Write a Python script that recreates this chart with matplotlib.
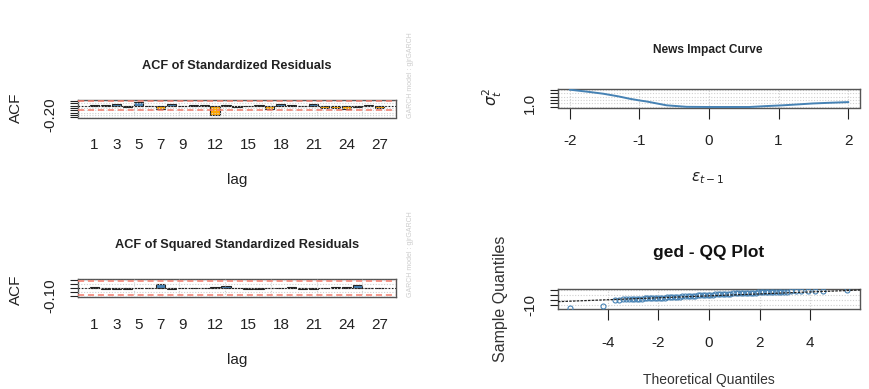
import matplotlib
matplotlib.use("Agg")
import matplotlib.pyplot as plt

plt.rcParams['font.family'] = ['Liberation Sans', 'DejaVu Sans']
plt.rcParams['axes.unicode_minus'] = False

# ---------------- data ----------------
lags = list(range(1, 28))
acf_std = [0.005, 0.003, 0.03, -0.04, 0.08, -0.015, -0.07, 0.03, 0.002, 0.003,
           0.004, -0.20, 0.01, -0.035, -0.01, 0.01, -0.07, 0.035, 0.01, -0.01,
           0.035, -0.06, -0.06, -0.075, -0.03, 0.003, -0.06]
acf_sq = [0.005, -0.02, -0.02, -0.02, 0.002, 0.002, 0.055, -0.02, 0.002, 0.002,
          0.001, 0.006, 0.02, 0.001, -0.02, -0.02, 0.001, 0.001, 0.006, -0.02,
          -0.02, 0.002, 0.005, 0.005, 0.04, -0.004, -0.004]
acf_clim = 0.088
acf_std_ylim = (-0.254, 0.12)
acf_sq_ylim = (-0.114, 0.114)
acf_std_yticks = [-0.25, -0.20, -0.15, -0.10, -0.05, 0.0, 0.05, 0.10]
acf_sq_yticks = [-0.10, -0.05, 0.0, 0.05, 0.10]
acf_xlabels = [1, 3, 5, 7, 9, 12, 15, 18, 21, 24, 27]

nic_eps = [-2.0, -1.75, -1.52, -1.3, -1.14, -1.0, -0.9, -0.61, -0.32, 0.0, 0.3,
           0.58, 0.8, 1.06, 1.3, 1.49, 1.73, 2.0]
nic_sigma2 = [1.82, 1.70, 1.58, 1.42, 1.28, 1.18, 1.12, 0.89, 0.80, 0.79, 0.79,
              0.79, 0.84, 0.89, 0.95, 1.00, 1.04, 1.08]
nic_yticks = [0.8, 1.0, 1.2, 1.4, 1.6, 1.8]
nic_xticks = [-2, -1, 0, 1, 2]

qq_theo = [-5.48, -4.21, -3.71, -3.55, -3.40, -3.28, -3.15, -3.05, -2.95, -2.85,
           -2.75, -2.65, -2.55, -2.45, -2.35, -2.25, -2.15, -2.05, -1.95, -1.85,
           -1.75, -1.65, -1.55, -1.45, -1.35, -1.25, -1.15, -1.05, -0.95, -0.85,
           -0.75, -0.65, -0.55, -0.45, -0.35, -0.25, -0.15, -0.05, 0.05, 0.15,
           0.25, 0.35, 0.45, 0.55, 0.65, 0.75, 0.85, 0.95, 1.05, 1.15,
           1.25, 1.35, 1.45, 1.55, 1.65, 1.75, 1.85, 1.95, 2.05, 2.15,
           2.25, 2.35, 2.45, 2.55, 2.65, 2.75, 2.85, 2.95, 3.10, 3.25,
           3.45, 3.65, 3.90, 4.20, 4.50, 5.47]
qq_sample = [-12.3, -10.6, -4.9, -4.6, -4.4, -4.2, -4.0, -3.9, -3.8, -3.7,
             -3.6, -3.5, -3.4, -3.3, -3.2, -3.1, -3.0, -2.9, -2.8, -2.7,
             -2.6, -2.5, -2.4, -2.2, -2.0, -1.8, -1.6, -1.4, -1.25, -1.1,
             -0.95, -0.8, -0.65, -0.5, -0.35, -0.2, -0.1, 0.0, 0.1, 0.2,
             0.35, 0.5, 0.65, 0.8, 0.95, 1.1, 1.2, 1.3, 1.4, 1.5,
             1.6, 1.7, 1.8, 1.9, 2.0, 2.1, 2.2, 2.3, 2.35, 2.4,
             2.5, 2.55, 2.6, 2.7, 2.75, 2.8, 2.9, 3.0, 3.1, 3.2,
             3.3, 3.45, 3.6, 3.8, 4.0, 4.3]
qq_line_intercept = -0.95
qq_line_slope = 0.93
qq_xticks = [-4, -2, 0, 2, 4]
qq_yticks = [-10, -5, 0, 5]

# ---------------- figure ----------------
W, H = 869, 389
fig = plt.figure(figsize=(W / 100, H / 100), dpi=100)


def box(x0, y0, x1, y1):
    return fig.add_axes([x0 / W, 1 - y1 / H, (x1 - x0) / W, (y1 - y0) / H])


frame_col = '#555555'
grid_col = '#d0d0d0'
steel = '#4682B4'
orange = '#FFA500'


def style(ax):
    for s in ax.spines.values():
        s.set_color(frame_col)
        s.set_linewidth(1.0)
    ax.tick_params(colors='#222222', labelcolor='#222222', width=0.8)


def acf_panel(ax, vals, ylim, yticks, ylabel_tick):
    pos = [0.7 + 1.2 * (l - 1) for l in lags]
    cols = [steel if v > 0 else orange for v in vals]
    ax.bar(pos, vals, width=1.0, color=cols, edgecolor='#222222', linewidth=0.8, zorder=2)
    left = 0.2
    right = 0.2 + 1.2 * (len(lags) - 1) + 1.0
    ext = 0.04 * (right - left)
    ax.set_xlim(left - ext, right + ext)
    ax.set_ylim(*ylim)
    for gx in [5, 10, 15, 20, 25, 30]:
        ax.axvline(gx, color=grid_col, lw=0.8, ls=(0, (1, 1.5)), zorder=3)
    for gy in yticks:
        ax.axhline(gy, color=grid_col, lw=0.8, ls=(0, (1, 1.5)), zorder=3)
    ax.axhline(acf_clim, color='#f47c6c', lw=1.1, ls=(0, (4, 2.5)), zorder=4)
    ax.axhline(-acf_clim, color='#f47c6c', lw=1.1, ls=(0, (4, 2.5)), zorder=4)
    ax.axhline(0, color='#222222', lw=0.8, ls=(0, (1.5, 1.5)), zorder=4)
    ax.set_xticks([pos[l - 1] for l in acf_xlabels], [str(l) for l in acf_xlabels])
    ax.tick_params(axis='x', length=0, pad=15, labelsize=11)
    ax.set_yticks(yticks, [ylabel_tick if abs(t - float(ylabel_tick)) < 1e-9 else '' for t in yticks])
    ax.tick_params(axis='y', length=6, pad=9, labelsize=11, labelrotation=90)
    for lab in ax.get_yticklabels():
        lab.set_va('center')
    style(ax)


# top-left ACF of standardized residuals
ax1 = box(78, 100, 396, 117.5)
acf_panel(ax1, acf_std, acf_std_ylim, acf_std_yticks, '-0.20')
fig.text(237 / W, 1 - 66 / H, 'ACF of Standardized Residuals', ha='center', va='center',
         fontsize=9.2, fontweight='bold', color='#222222')
fig.text(16 / W, 1 - 108 / H, 'ACF', rotation=90, ha='center', va='center', fontsize=11, color='#222222')
fig.text(237 / W, 1 - 180 / H, 'lag', ha='center', va='center', fontsize=11, color='#222222')
fig.text(410 / W, 1 - 118 / H, 'GARCH model : gjrGARCH', rotation=90, ha='center', va='bottom',
         fontsize=5, color='#cccccc')

# bottom-left ACF of squared standardized residuals
ax2 = box(78, 279, 396, 296.7)
acf_panel(ax2, acf_sq, acf_sq_ylim, acf_sq_yticks, '-0.10')
fig.text(237 / W, 1 - 245 / H, 'ACF of Squared Standardized Residuals', ha='center', va='center',
         fontsize=9.2, fontweight='bold', color='#222222')
fig.text(16 / W, 1 - 290 / H, 'ACF', rotation=90, ha='center', va='center', fontsize=11, color='#222222')
fig.text(237 / W, 1 - 360 / H, 'lag', ha='center', va='center', fontsize=11, color='#222222')
fig.text(410 / W, 1 - 297 / H, 'GARCH model : gjrGARCH', rotation=90, ha='center', va='bottom',
         fontsize=5, color='#cccccc')

# top-right News Impact Curve
ax3 = box(558, 89, 860, 107.5)
ax3.plot(nic_eps, nic_sigma2, color=steel, lw=1.4, zorder=3)
ax3.set_xlim(-2.17, 2.17)
ax3.set_ylim(0.76, 1.86)
for gx in nic_xticks:
    ax3.axvline(gx, color=grid_col, lw=0.8, ls=(0, (1, 1.5)), zorder=1)
for gy in nic_yticks:
    ax3.axhline(gy, color=grid_col, lw=0.8, ls=(0, (1, 1.5)), zorder=1)
ax3.set_xticks(nic_xticks, [str(t) for t in nic_xticks])
ax3.tick_params(axis='x', length=8, pad=11, labelsize=11)
ax3.set_yticks(nic_yticks, ['1.0' if abs(t - 1.0) < 1e-9 else '' for t in nic_yticks])
ax3.tick_params(axis='y', length=6, pad=9, labelsize=11, labelrotation=90)
for lab in ax3.get_yticklabels():
    lab.set_va('center')
style(ax3)
fig.text(708 / W, 1 - 50 / H, 'News Impact Curve', ha='center', va='center',
         fontsize=8.6, fontweight='bold', color='#222222')
fig.text(492 / W, 1 - 97 / H, r'$\sigma_t^2$', rotation=90, ha='center', va='center',
         fontsize=11, color='#222222')
fig.text(708 / W, 1 - 178 / H, r'$\varepsilon_{t-1}$', ha='center', va='center',
         fontsize=11, color='#222222')

# bottom-right QQ plot
ax4 = box(558, 289.3, 860, 309.3)
for gx in qq_xticks:
    ax4.axvline(gx, color=grid_col, lw=0.8, ls=(0, (1, 1.5)), zorder=1)
for gy in qq_yticks:
    ax4.axhline(gy, color=grid_col, lw=0.8, ls=(0, (1, 1.5)), zorder=1)
ax4.plot(qq_theo, qq_sample, ls='none', marker='o', ms=3.6, mfc='none', mec=steel, mew=0.8, zorder=3)
ax4.axline((0, qq_line_intercept), slope=qq_line_slope, color='#222222', lw=0.9,
           ls=(0, (2, 1)), zorder=4)
ax4.set_xlim(-5.97, 5.97)
ax4.set_ylim(-13.8, 5.3)
ax4.set_xticks(qq_xticks, [str(t) for t in qq_xticks])
ax4.tick_params(axis='x', length=8, pad=11, labelsize=11)
ax4.set_yticks(qq_yticks, ['-10' if t == -10 else '' for t in qq_yticks])
ax4.tick_params(axis='y', length=6, pad=9, labelsize=11, labelrotation=90)
for lab in ax4.get_yticklabels():
    lab.set_va('center')
style(ax4)
fig.text(709 / W, 1 - 252 / H, 'ged - QQ Plot', ha='center', va='center',
         fontsize=12.5, fontweight='bold', color='#111111')
fig.text(500 / W, 1 - 299 / H, 'Sample Quantiles', rotation=90, ha='center', va='center',
         fontsize=11.5, color='#333333')
fig.text(709 / W, 1 - 380 / H, 'Theoretical Quantiles', ha='center', va='center',
         fontsize=10, color='#333333')

fig.savefig('out.png', dpi=100)
